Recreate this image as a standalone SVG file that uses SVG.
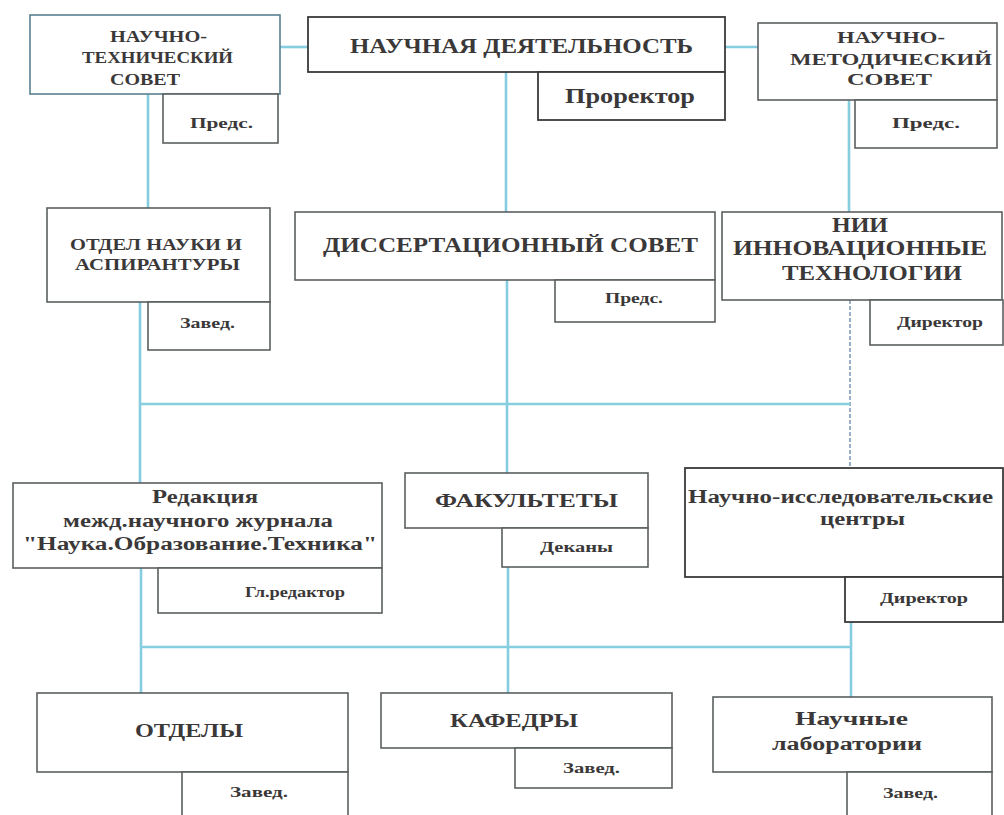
<svg xmlns="http://www.w3.org/2000/svg" width="1004" height="815" viewBox="0 0 1004 815">
<style>
.box{fill:#fff;stroke:#5a5f60;stroke-width:1.6}
.boxb{fill:#fff;stroke:#5b7f92;stroke-width:1.6}
.boxd{fill:#fff;stroke:#3a3a3a;stroke-width:1.8}
.con{fill:none;stroke:#86cde0;stroke-width:2.6}
.dash{fill:none;stroke:#7f9cb8;stroke-width:1.6;stroke-dasharray:4 2}
text{font-family:"Liberation Serif","DejaVu Serif",serif;font-weight:bold;fill:#3a3838}
.t15{font-size:16px}
.t13{font-size:14px}
.t20{font-size:22px}
.t18{font-size:21px}
.t17{font-size:18px}
</style>
<rect width="1004" height="815" fill="#fff"/>
<g id="connectors">
<line class="con" x1="280" y1="47" x2="308" y2="47"/>
<line class="con" x1="725" y1="47" x2="758" y2="47"/>
<line class="con" x1="148" y1="94" x2="148" y2="208"/>
<line class="con" x1="506" y1="72" x2="506" y2="212"/>
<line class="con" x1="849" y1="100" x2="849" y2="212"/>
<line class="con" x1="140" y1="302" x2="140" y2="483"/>
<line class="con" x1="507" y1="280" x2="507" y2="473"/>
<line class="dash" x1="850" y1="300" x2="850" y2="468"/>
<line class="con" x1="140" y1="404" x2="850" y2="404"/>
<line class="con" x1="141" y1="568" x2="141" y2="693"/>
<line class="con" x1="508" y1="567" x2="508" y2="693"/>
<line class="con" x1="851" y1="622" x2="851" y2="697"/>
<line class="con" x1="141" y1="647" x2="851" y2="647"/>
</g>
<g id="nts">
<rect class="boxb" x="30" y="15" width="250" height="79"/>
<rect class="box" x="163" y="94" width="115" height="49"/>
<text class="t15" x="110" y="42" textLength="97" lengthAdjust="spacingAndGlyphs">НАУЧНО-</text>
<text class="t15" x="82" y="63" textLength="151" lengthAdjust="spacingAndGlyphs">ТЕХНИЧЕСКИЙ</text>
<text class="t15" x="110" y="85" textLength="70" lengthAdjust="spacingAndGlyphs">СОВЕТ</text>
<text class="t13" x="190" y="128" textLength="63" lengthAdjust="spacingAndGlyphs">Предс.</text>
</g>
<g id="nd">
<rect class="boxd" x="308" y="17" width="417" height="55"/>
<rect class="boxd" x="538" y="72" width="187" height="48"/>
<text class="t20" x="350" y="53" textLength="343" lengthAdjust="spacingAndGlyphs">НАУЧНАЯ ДЕЯТЕЛЬНОСТЬ</text>
<text class="t18" x="565" y="103" textLength="130" lengthAdjust="spacingAndGlyphs">Проректор</text>
</g>
<g id="nms">
<rect class="box" x="758" y="23" width="239" height="77"/>
<rect class="box" x="855" y="100" width="142" height="48"/>
<text class="t15" x="837" y="43" textLength="108" lengthAdjust="spacingAndGlyphs">НАУЧНО-</text>
<text class="t15" x="790" y="65" textLength="202" lengthAdjust="spacingAndGlyphs">МЕТОДИЧЕСКИЙ</text>
<text class="t15" x="847" y="85" textLength="85" lengthAdjust="spacingAndGlyphs">СОВЕТ</text>
<text class="t13" x="892" y="128" textLength="68" lengthAdjust="spacingAndGlyphs">Предс.</text>
</g>
<g id="ona">
<rect class="box" x="47" y="208" width="223" height="94"/>
<rect class="box" x="148" y="302" width="122" height="48"/>
<text class="t15" x="70" y="250" textLength="172" lengthAdjust="spacingAndGlyphs">ОТДЕЛ НАУКИ И</text>
<text class="t15" x="75" y="270" textLength="165" lengthAdjust="spacingAndGlyphs">АСПИРАНТУРЫ</text>
<text class="t13" x="180" y="328" textLength="55" lengthAdjust="spacingAndGlyphs">Завед.</text>
</g>
<g id="ds">
<rect class="box" x="295" y="212" width="420" height="68"/>
<rect class="box" x="555" y="280" width="160" height="42"/>
<text class="t20" x="323" y="252" textLength="375" lengthAdjust="spacingAndGlyphs">ДИССЕРТАЦИОННЫЙ СОВЕТ</text>
<text class="t13" x="605" y="303" textLength="58" lengthAdjust="spacingAndGlyphs">Предс.</text>
</g>
<g id="nii">
<rect class="box" x="722" y="212" width="280" height="88"/>
<rect class="box" x="870" y="300" width="133" height="45"/>
<text class="t18" x="832" y="232" textLength="56" lengthAdjust="spacingAndGlyphs">НИИ</text>
<text class="t18" x="733" y="255" textLength="254" lengthAdjust="spacingAndGlyphs">ИННОВАЦИОННЫЕ</text>
<text class="t18" x="782" y="280" textLength="180" lengthAdjust="spacingAndGlyphs">ТЕХНОЛОГИИ</text>
<text class="t13" x="897" y="327" textLength="86" lengthAdjust="spacingAndGlyphs">Директор</text>
</g>
<g id="red">
<rect class="box" x="13" y="483" width="369" height="85"/>
<rect class="box" x="158" y="568" width="224" height="45"/>
<text class="t17" x="152" y="503" textLength="106" lengthAdjust="spacingAndGlyphs">Редакция</text>
<text class="t17" x="63" y="527" textLength="270" lengthAdjust="spacingAndGlyphs">межд.научного журнала</text>
<text class="t17" x="23" y="550" textLength="354" lengthAdjust="spacingAndGlyphs">"Наука.Образование.Техника"</text>
<text class="t13" x="245" y="597" textLength="100" lengthAdjust="spacingAndGlyphs">Гл.редактор</text>
</g>
<g id="fak">
<rect class="box" x="405" y="473" width="243" height="55"/>
<rect class="box" x="502" y="528" width="146" height="39"/>
<text class="t17" x="435" y="507" textLength="183" lengthAdjust="spacingAndGlyphs">ФАКУЛЬТЕТЫ</text>
<text class="t13" x="540" y="552" textLength="73" lengthAdjust="spacingAndGlyphs">Деканы</text>
</g>
<g id="nic">
<rect class="boxd" x="685" y="468" width="318" height="109"/>
<rect class="boxd" x="845" y="577" width="158" height="45"/>
<text class="t17" x="688" y="503" textLength="305" lengthAdjust="spacingAndGlyphs">Научно-исследовательские</text>
<text class="t17" x="820" y="525" textLength="85" lengthAdjust="spacingAndGlyphs">центры</text>
<text class="t13" x="880" y="603" textLength="88" lengthAdjust="spacingAndGlyphs">Директор</text>
</g>
<g id="otd">
<rect class="box" x="37" y="693" width="311" height="79"/>
<rect class="box" x="182" y="772" width="166" height="60"/>
<text class="t17" x="135" y="737" textLength="108" lengthAdjust="spacingAndGlyphs">ОТДЕЛЫ</text>
<text class="t13" x="230" y="797" textLength="58" lengthAdjust="spacingAndGlyphs">Завед.</text>
</g>
<g id="kaf">
<rect class="box" x="381" y="693" width="291" height="55"/>
<rect class="box" x="515" y="748" width="157" height="40"/>
<text class="t17" x="450" y="727" textLength="128" lengthAdjust="spacingAndGlyphs">КАФЕДРЫ</text>
<text class="t13" x="563" y="773" textLength="57" lengthAdjust="spacingAndGlyphs">Завед.</text>
</g>
<g id="lab">
<rect class="box" x="713" y="697" width="279" height="75"/>
<rect class="box" x="847" y="772" width="145" height="60"/>
<text class="t17" x="795" y="725" textLength="113" lengthAdjust="spacingAndGlyphs">Научные</text>
<text class="t17" x="772" y="750" textLength="150" lengthAdjust="spacingAndGlyphs">лаборатории</text>
<text class="t13" x="883" y="798" textLength="55" lengthAdjust="spacingAndGlyphs">Завед.</text>
</g>
</svg>
